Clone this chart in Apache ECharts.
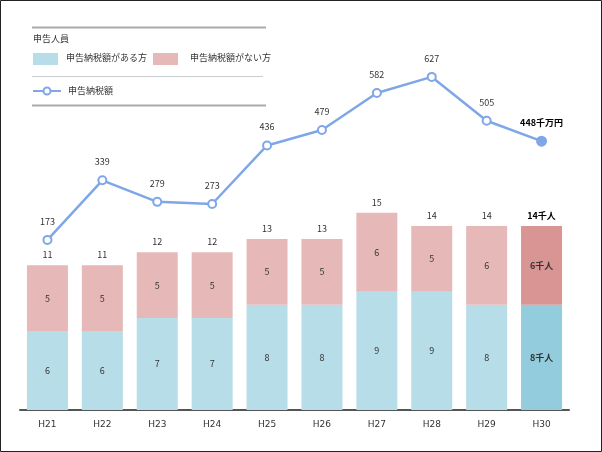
<!DOCTYPE html>
<html><head><meta charset="utf-8">
<script src="https://cdn.jsdelivr.net/npm/echarts@6/dist/echarts.min.js"></script>
<style>html,body{margin:0;padding:0;background:#fff}#c{width:602px;height:452px}</style>
</head><body><div id="c"></div>
<script>
const categories = ['H21','H22','H23','H24','H25','H26','H27','H28','H29','H30'];
const withTax = [6,6,7,7,8,8,9,9,8,8];
const withoutTax = [5,5,5,5,5,5,6,5,6,6];
const totals = [11,11,12,12,13,13,15,14,14,14];
const taxAmount = [173,339,279,273,436,479,582,627,505,448];

const FONT = '"Noto Sans CJK JP", "Noto Sans", sans-serif';
const last = categories.length - 1;
const chart = echarts.init(document.getElementById('c'), null, {renderer:'canvas'});

const blueData = withTax.map((v,i)=> i===last ? {value:v, itemStyle:{color:'#93cddd'}, label:{fontWeight:'bold', formatter: v+'千人'}} : v);
const redData = withoutTax.map((v,i)=> i===last ? {value:v, itemStyle:{color:'#d99594'}, label:{fontWeight:'bold', formatter: v+'千人'}} : v);
const totalData = totals.map((v,i)=> i===last ? {value:v, label:{fontWeight:'bold', color:'#000', formatter: v+'千人'}} : v);
const lineData = taxAmount.map((v,i)=> i===last ? {value:v, symbol:'circle', symbolSize:9, itemStyle:{color:'#7fa7e8'}, label:{fontWeight:'bold', color:'#000', formatter: v+'千万円'}} : v);

chart.setOption({
  animation:false,
  textStyle:{fontFamily:FONT},
  grid:{left:20, right:33, top:40, bottom:42},
  xAxis:{type:'category', data:categories,
    axisLine:{lineStyle:{color:'#555', width:2}}, axisTick:{show:false},
    axisLabel:{color:'#333', fontSize:9, margin:10, fontFamily:'Verdana, "DejaVu Sans", sans-serif'}},
  yAxis:[
    {type:'value', min:0, max:28.14, show:false, splitLine:{show:false}},
    {type:'value', min:-300.8, max:729.8, show:false, splitLine:{show:false}}
  ],
  series:[
    {name:'申告納税額がある方', type:'bar', stack:'a', data:blueData, barWidth:41,
      itemStyle:{color:'#b7dde8', borderColor:'#fff', borderWidth:0},
      label:{show:true, position:'inside', color:'#333', fontSize:9}},
    {name:'申告納税額がない方', type:'bar', stack:'a', data:redData, barWidth:41,
      itemStyle:{color:'#e6b9b8'},
      label:{show:true, position:'inside', color:'#333', fontSize:9}},
    {name:'total', type:'bar', stack:'b', barGap:'-100%', data:totalData, barWidth:41,
      itemStyle:{color:'transparent'}, silent:true,
      label:{show:true, position:'top', distance:6, color:'#333', fontSize:9, formatter:'{c}'}},
    {name:'申告納税額', type:'line', yAxisIndex:1, data:lineData,
      lineStyle:{color:'#7fa7e8', width:2.5},
      itemStyle:{color:'#7fa7e8', borderColor:'#7fa7e8', borderWidth:2},
      symbol:'emptyCircle', symbolSize:8,
      label:{show:true, position:'top', distance:9, color:'#333', fontSize:9}}
  ],
  graphic:[
    {type:'rect', shape:{x:0.5,y:0.5,width:601,height:451}, style:{fill:'none', stroke:'#222', lineWidth:1}, z:100},
    {type:'line', shape:{x1:32,y1:27.5,x2:266,y2:27.5}, style:{stroke:'#aaa', lineWidth:2}},
    {type:'text', x:33, y:34, style:{text:'申告人員', fontSize:9, fill:'#333', fontFamily:FONT}},
    {type:'rect', shape:{x:33,y:53,width:25,height:12}, style:{fill:'#b7dde8'}},
    {type:'text', x:66, y:53, style:{text:'申告納税額がある方', fontSize:9, fill:'#333', fontFamily:FONT}},
    {type:'rect', shape:{x:153,y:53,width:25,height:12}, style:{fill:'#e6b9b8'}},
    {type:'text', x:190, y:53, style:{text:'申告納税額がない方', fontSize:9, fill:'#333', fontFamily:FONT}},
    {type:'line', shape:{x1:32,y1:76.5,x2:263,y2:76.5}, style:{stroke:'#ccc', lineWidth:1}},
    {type:'line', shape:{x1:33,y1:91,x2:61,y2:91}, style:{stroke:'#7fa7e8', lineWidth:2}},
    {type:'circle', shape:{cx:47,cy:91,r:3.5}, style:{fill:'#fff', stroke:'#7fa7e8', lineWidth:2}},
    {type:'text', x:68, y:86, style:{text:'申告納税額', fontSize:9, fill:'#333', fontFamily:FONT}},
    {type:'line', shape:{x1:32,y1:105.5,x2:266,y2:105.5}, style:{stroke:'#aaa', lineWidth:2}}
  ]
});
</script></body></html>
